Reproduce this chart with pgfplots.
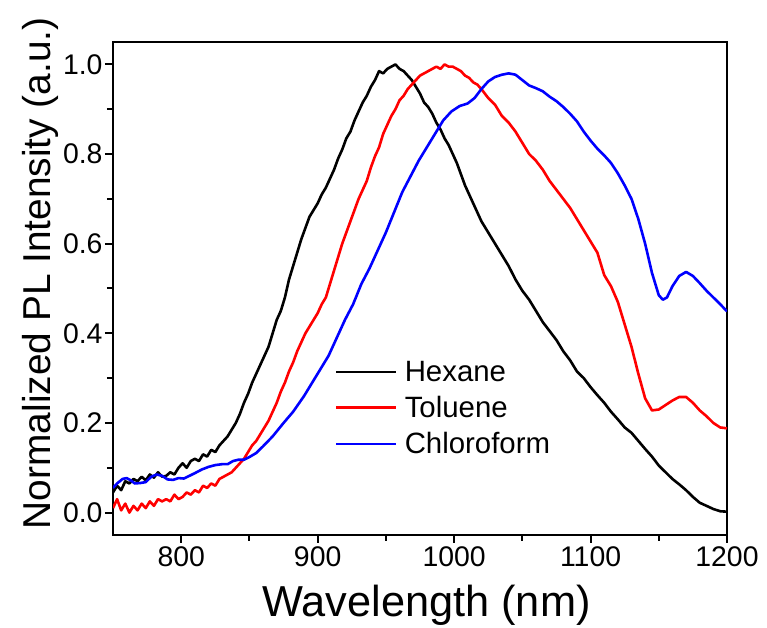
\documentclass[border=0pt]{standalone}
\usepackage{fontspec}
\setmainfont{Liberation Sans}
\usepackage{pgfplots}
\pgfplotsset{compat=1.18}
\begin{document}
\begin{tikzpicture}
\begin{axis}[
  at={(113bp,93bp)}, anchor=south west,
  width=614bp, height=493bp, scale only axis,
  xmin=750, xmax=1200, ymin=-0.05, ymax=1.05,
  xtick={800,900,1000,1100,1200},
  ytick={0,0.2,0.4,0.6,0.8,1.0},
  minor x tick num=1, minor y tick num=1,
  tick align=outside,
  major tick length=8bp, minor tick length=6bp,
  axis line style={line width=2.2bp},
  every tick/.style={line width=2bp, black},
  xtick pos=bottom, ytick pos=left,
  /pgf/number format/assume math mode=true,
  /pgf/number format/1000 sep={},
  ticklabel style={font=\fontsize{28.5}{28.5}\selectfont},
  yticklabel style={/pgf/number format/fixed, /pgf/number format/fixed zerofill, /pgf/number format/precision=1, xshift=1bp},
  xlabel={Wavelength (nm)},
  ylabel={Normalized PL Intensity (a.u.)},
  xlabel style={font=\fontsize{43.5}{43.5}\selectfont, at={(axis description cs:0.5106,-0.166)}, anchor=base},
  ylabel style={font=\fontsize{39}{39}\selectfont, at={(axis description cs:-0.1026,0.531)}, anchor=base},
  legend style={draw=none, fill=none, font=\fontsize{29.5}{29.5}\selectfont, at={(axis description cs:0.3615,0.357)}, anchor=north west, row sep=9.5bp, column sep=5bp, inner sep=0pt},
  legend cell align=left,
  legend image code/.code={\draw[#1, line width=2.6bp] (0bp,0bp) -- (60bp,0bp);},
  every axis plot/.append style={line width=2.6bp, line join=round},
]
\addplot[black] coordinates {
(750,0.045)(753,0.06)(756,0.05)(759,0.07)(762,0.065)(765,0.075)(768,0.07)(771,0.08)(774,0.072)(777,0.085)(780,0.078)(783,0.09)(786,0.08)(789,0.082)(792,0.09)(795,0.085)(798,0.1)(801,0.11)(804,0.1)(807,0.115)(810,0.12)(813,0.115)(816,0.13)(819,0.125)(822,0.14)(825,0.135)(828,0.15)(831,0.16)(834,0.17)(837,0.185)(840,0.2)(843,0.22)(846,0.245)(849,0.265)(852,0.29)(855,0.31)(858,0.33)(861,0.35)(864,0.37)(867,0.4)(870,0.43)(873,0.45)(876,0.48)(879,0.52)(882,0.55)(885,0.58)(888,0.61)(891,0.635)(894,0.66)(897,0.675)(900,0.69)(903,0.71)(906,0.725)(909,0.745)(912,0.765)(915,0.79)(918,0.81)(921,0.835)(924,0.85)(927,0.875)(930,0.895)(933,0.915)(936,0.93)(939,0.95)(942,0.965)(945,0.985)(948,0.98)(951,0.99)(954,0.995)(957,1.0)(960,0.99)(963,0.985)(966,0.975)(969,0.965)(972,0.95)(975,0.935)(978,0.915)(981,0.905)(984,0.89)(987,0.87)(990,0.855)(993,0.835)(996,0.82)(999,0.8)(1002,0.78)(1005,0.755)(1008,0.73)(1011,0.71)(1014,0.69)(1017,0.67)(1020,0.65)(1025,0.625)(1030,0.6)(1035,0.575)(1040,0.55)(1045,0.52)(1050,0.495)(1055,0.475)(1060,0.45)(1065,0.425)(1070,0.405)(1075,0.385)(1080,0.36)(1085,0.34)(1090,0.315)(1095,0.3)(1100,0.28)(1105,0.262)(1110,0.245)(1115,0.225)(1120,0.208)(1125,0.19)(1130,0.178)(1135,0.16)(1140,0.142)(1145,0.125)(1150,0.105)(1155,0.09)(1160,0.075)(1165,0.063)(1170,0.05)(1175,0.035)(1180,0.022)(1185,0.015)(1190,0.008)(1195,0.003)(1200,0.002)
};
\addlegendentry{Hexane}
\addplot[red] coordinates {
(750,0.01)(753,0.03)(756,0.005)(759,0.02)(762,0.0)(765,0.015)(768,0.005)(771,0.02)(774,0.01)(777,0.025)(780,0.015)(783,0.03)(786,0.025)(789,0.03)(792,0.025)(795,0.04)(798,0.03)(801,0.035)(804,0.045)(807,0.04)(810,0.05)(813,0.045)(816,0.06)(819,0.055)(822,0.065)(825,0.06)(828,0.075)(831,0.08)(834,0.085)(837,0.09)(840,0.1)(843,0.11)(846,0.12)(849,0.135)(852,0.15)(855,0.16)(858,0.175)(861,0.19)(864,0.205)(867,0.225)(870,0.245)(873,0.27)(876,0.29)(879,0.315)(882,0.335)(885,0.36)(888,0.38)(891,0.4)(894,0.415)(897,0.43)(900,0.445)(903,0.465)(906,0.48)(909,0.51)(912,0.54)(915,0.57)(918,0.6)(921,0.625)(924,0.65)(927,0.675)(930,0.7)(933,0.72)(936,0.74)(939,0.77)(942,0.795)(945,0.815)(948,0.845)(951,0.865)(954,0.885)(957,0.9)(960,0.92)(963,0.93)(966,0.945)(969,0.955)(972,0.965)(975,0.975)(978,0.98)(981,0.985)(984,0.99)(987,0.995)(990,0.99)(993,1.0)(996,0.995)(999,0.995)(1002,0.99)(1005,0.985)(1008,0.975)(1011,0.97)(1014,0.96)(1017,0.955)(1020,0.945)(1025,0.925)(1030,0.91)(1035,0.885)(1040,0.87)(1045,0.85)(1050,0.825)(1055,0.8)(1060,0.785)(1065,0.765)(1070,0.74)(1075,0.72)(1080,0.7)(1085,0.68)(1090,0.655)(1095,0.63)(1100,0.605)(1105,0.58)(1110,0.53)(1115,0.505)(1120,0.47)(1125,0.42)(1130,0.37)(1135,0.31)(1140,0.255)(1145,0.228)(1150,0.23)(1155,0.24)(1160,0.25)(1165,0.258)(1170,0.258)(1175,0.245)(1180,0.228)(1185,0.215)(1190,0.2)(1195,0.19)(1200,0.188)
};
\addlegendentry{Toluene}
\addplot[blue] coordinates {
(750,0.055)(753,0.065)(757,0.075)(760,0.077)(763,0.072)(766,0.065)(770,0.066)(774,0.068)(778,0.08)(782,0.085)(786,0.082)(790,0.074)(794,0.073)(798,0.077)(802,0.076)(806,0.082)(810,0.088)(815,0.096)(820,0.102)(825,0.106)(830,0.108)(834,0.108)(838,0.115)(842,0.118)(846,0.118)(850,0.124)(855,0.133)(860,0.148)(867,0.17)(875,0.2)(882,0.225)(890,0.26)(896,0.29)(902,0.32)(908,0.35)(914,0.39)(920,0.43)(926,0.465)(932,0.51)(938,0.545)(944,0.585)(950,0.625)(956,0.67)(962,0.715)(968,0.75)(974,0.785)(980,0.815)(986,0.845)(992,0.875)(998,0.895)(1004,0.907)(1010,0.913)(1015,0.925)(1020,0.945)(1025,0.962)(1030,0.972)(1035,0.977)(1040,0.98)(1045,0.977)(1050,0.965)(1055,0.953)(1060,0.947)(1065,0.94)(1070,0.928)(1075,0.918)(1080,0.905)(1085,0.89)(1090,0.873)(1095,0.85)(1100,0.83)(1105,0.812)(1110,0.797)(1115,0.78)(1120,0.757)(1125,0.73)(1130,0.7)(1135,0.655)(1140,0.6)(1145,0.535)(1150,0.485)(1153,0.475)(1156,0.48)(1160,0.505)(1165,0.528)(1170,0.537)(1175,0.528)(1180,0.512)(1185,0.495)(1190,0.48)(1195,0.465)(1200,0.449)
};
\addlegendentry{Chloroform}
\end{axis}
\pgfresetboundingbox
\useasboundingbox (0bp,0bp) rectangle (767bp,628bp);
\end{tikzpicture}
\end{document}
